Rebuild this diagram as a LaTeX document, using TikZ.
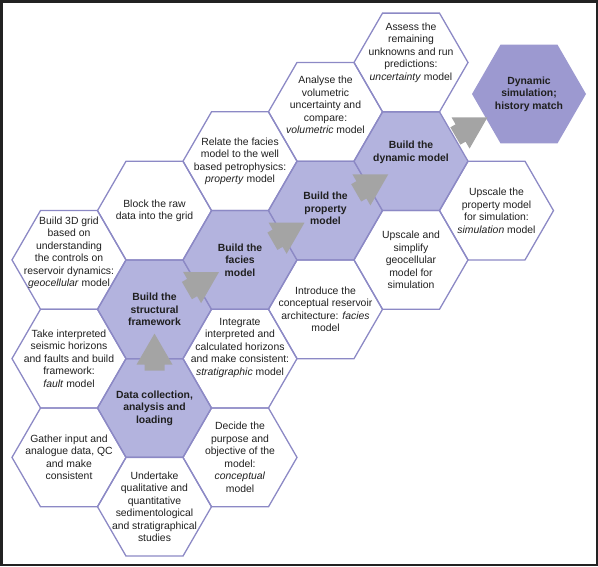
\documentclass[tikz,border=0pt]{standalone}
\usepackage{fontspec}
\setmainfont{Liberation Sans}
\usetikzlibrary{shapes.geometric,calc}

\definecolor{hexline}{HTML}{8C89C5}
\definecolor{buildfill}{HTML}{B3B3DE}
\definecolor{simfill}{HTML}{9C99D0}
\definecolor{arrowgray}{HTML}{A4A4A4}
\definecolor{framedark}{HTML}{222222}

\tikzset{
  hex/.style={regular polygon, regular polygon sides=6, minimum size=114pt,
    inner sep=0pt, draw=hexline, line width=1.3pt},
  build/.style={hex, fill=buildfill},
  simhex/.style={hex, draw=none, fill=simfill},
  note/.style={align=center, inner sep=0pt, text=black!88,
    font=\fontsize{10.4}{12.5}\selectfont},
  bnote/.style={note, font=\fontsize{10.4}{12.4}\selectfont\bfseries},
  fatarrow/.pic={\fill[arrowgray] (-6pt,-10pt) -- (0pt,-10pt) -- (0pt,-18pt)
    -- (31pt,0pt) -- (0pt,18pt) -- (0pt,10pt) -- (-6pt,10pt) -- cycle;}
}

\begin{document}
\begin{tikzpicture}[x=1pt,y=-1pt]
\useasboundingbox (0,0) rectangle (598,566);
% lit hexagons first
\node[build] (dc) at (154.5,408) {};
\node[build] (struc) at (154.5,309.3) {};
\node[build] (facies) at (240,259.9) {};
\node[build] (prop) at (325.5,210.6) {};
\node[build] (dyn) at (411,161.2) {};
\node[hex] (geo) at (69,259.9) {};
\node[hex] (seis) at (69,358.6) {};
\node[hex] (gath) at (69,457.4) {};
\node[hex] (block) at (154.5,210.6) {};
\node[hex] (under) at (154.5,506.7) {};
\node[hex] (relate) at (240,161.2) {};
\node[hex] (integ) at (240,358.6) {};
\node[hex] (decide) at (240,457.4) {};
\node[hex] (volum) at (325.5,111.8) {};
\node[hex] (intro) at (325.5,309.3) {};
\node[hex] (assess) at (411,62.5) {};
\node[hex] (simpl) at (411,259.9) {};
\node[hex] (upprop) at (496.5,210.6) {};
\node[simhex] (sim) at (529,94) {};

% texts
\node[bnote] (dctext) at (dc) {Data collection,\\analysis and\\loading};
\node[bnote] (structext) at (struc) {Build the\\structural\\framework};
\node[bnote] (faciestext) at (facies) {Build the\\facies\\model};
\node[bnote, yshift=2pt] (proptext) at (prop) {Build the\\property\\model};
\node[bnote, yshift=9pt] (dyntext) at (dyn) {Build the\\dynamic model};
\node[bnote] (simtext) at (sim) {Dynamic\\simulation;\\history match};
\node[note, yshift=7pt] (geotext) at (geo) {Build 3D grid\\based on\\understanding\\the controls on\\reservoir dynamics:\\\textit{geocellular} model};
\node[note] (seistext) at (seis) {Take interpreted\\seismic horizons\\and faults and build\\framework:\\\textit{fault} model};
\node[note] (gathtext) at (gath) {Gather input and\\analogue data, QC\\and make\\consistent};
\node[note] (blocktext) at (block) {Block the raw\\data into the grid};
\node[note] (undertext) at (under) {Undertake\\qualitative and\\quantitative\\sedimentological\\and stratigraphical\\studies};
\node[note] (relatetext) at (relate) {Relate the facies\\model to the well\\based petrophysics:\\\textit{property} model};
\node[note, yshift=11pt] (integtext) at (integ) {Integrate\\interpreted and\\calculated horizons\\and make consistent:\\\textit{stratigraphic} model};
\node[note] (decidetext) at (decide) {Decide the\\purpose and\\objective of the\\model:\\\textit{conceptual}\\model};
\node[note, yshift=7pt] (volumtext) at (volum) {Analyse the\\volumetric\\uncertainty and\\compare:\\\textit{volumetric} model};
\node[note] (introtext) at (intro) {Introduce the\\conceptual reservoir\\architecture: \textit{facies}\\model};
\node[note, yshift=10pt] (assesstext) at (assess) {Assess the\\remaining\\unknowns and run\\predictions:\\\textit{uncertainty} model};
\node[note] (simpltext) at (simpl) {Upscale and\\simplify\\geocellular\\model for\\simulation};
\node[note] (upproptext) at (upprop) {Upscale the\\property model\\for simulation:\\\textit{simulation} model};

% workflow arrows
\pic[rotate=90] at ($(dc)!0.44!(struc)$) {fatarrow};
\pic[rotate=30] at ($(struc)!0.44!(facies)$) {fatarrow};
\pic[rotate=30] at ($(facies)!0.44!(prop)$) {fatarrow};
\pic[rotate=30] at ($(prop)!0.42!(dyn)$) {fatarrow};
\pic[rotate=30] at ($(dyn)!0.42!(sim)$) {fatarrow};

\draw[framedark, line width=2.5pt] (1.25,1.25) rectangle (596.75,564.75);
\end{tikzpicture}
\end{document}
